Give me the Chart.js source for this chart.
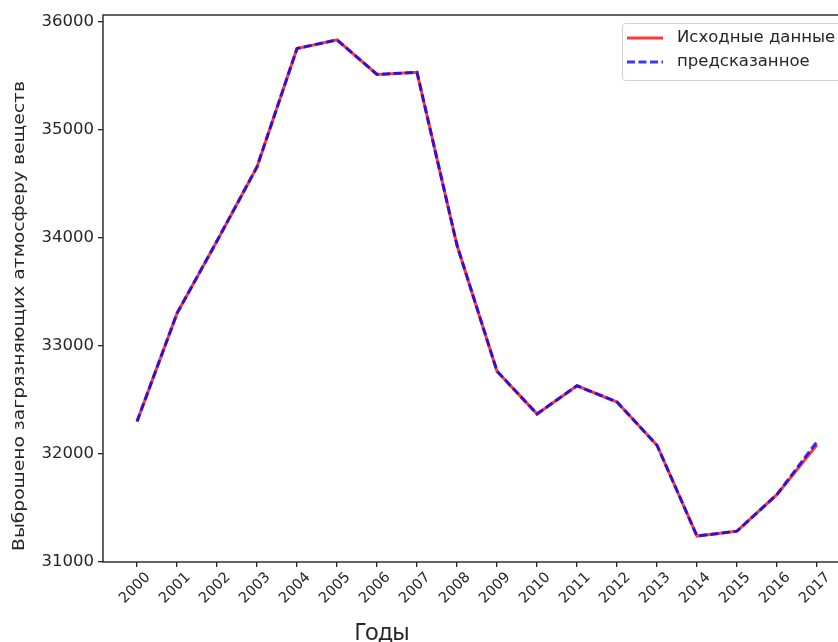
<!DOCTYPE html>
<html>
<head>
<meta charset="utf-8">
<script src="https://cdn.jsdelivr.net/npm/chart.js@4"></script>
<style>
  html, body { margin: 0; padding: 0; background: #fff; }
  #wrap { width: 838px; height: 642px; overflow: hidden; position: relative; }
  #chart { display: block; }
</style>
</head>
<body>
<div id="wrap"><canvas id="chart" width="880" height="642"></canvas></div>
<script>
// Emissions of air pollutants by year: source data and model prediction
const years = [2000, 2001, 2002, 2003, 2004, 2005, 2006, 2007, 2008, 2009, 2010, 2011, 2012, 2013, 2014, 2015, 2016, 2017];
const original = [32300, 33300, 33970, 34655, 35750, 35830, 35510, 35530, 33930, 32765, 32370, 32630, 32480, 32080, 31240, 31285, 31625, 32085];
const predicted = [32300, 33300, 33970, 34655, 35750, 35830, 35510, 35530, 33930, 32765, 32370, 32630, 32480, 32080, 31240, 31285, 31625, 32115];
const yTicks = [31000, 32000, 33000, 34000, 35000, 36000];
const seriesNames = ['Исходные данные', 'предсказанное'];
const xTitle = 'Годы';
const yTitle = 'Выброшено загрязняющих атмосферу веществ';

const RED = 'rgba(255,0,0,0.78)';
const BLUE = 'rgba(0,0,255,0.78)';
const TEXT = '#262626';
const LINE_W = 3;
const DASH = [8, 3.5];

const toPoints = arr => years.map((yr, i) => ({ x: yr, y: arr[i] }));

// Frame, rotated year labels, axis titles and legend
const decorations = {
  id: 'decorations',
  afterDraw(chart) {
    const { ctx, chartArea: a, scales } = chart;
    ctx.save();
    // axes frame
    ctx.strokeStyle = '#222';
    ctx.lineWidth = 1.4;
    ctx.strokeRect(a.left, a.top, a.right - a.left, a.bottom - a.top);

    // year labels, rotated 45 degrees and centred under each tick
    ctx.fillStyle = TEXT;
    ctx.font = '14.5px "DejaVu Sans"';
    ctx.textAlign = 'center';
    ctx.textBaseline = 'middle';
    years.forEach(yr => {
      const px = scales.x.getPixelForValue(yr);
      ctx.save();
      ctx.translate(px - 2, a.bottom + 26);
      ctx.rotate(-Math.PI / 4);
      ctx.fillText(String(yr), 0, 0);
      ctx.restore();
    });

    // y axis title (slightly elongated along its run)
    ctx.save();
    ctx.translate(20, 316);
    ctx.rotate(-Math.PI / 2);
    ctx.scale(1.17, 1);
    ctx.font = '16px "DejaVu Sans"';
    ctx.fillText(yTitle, 0, 0);
    ctx.restore();

    // x axis title
    ctx.font = '23px "Noto Sans"';
    ctx.textBaseline = 'alphabetic';
    ctx.fillText(xTitle, 382, 640);

    // legend
    const lx = 622.5, ly = 23.5, lw = 260, lh = 57;
    ctx.fillStyle = 'rgba(255,255,255,0.8)';
    ctx.strokeStyle = '#d0d0d0';
    ctx.lineWidth = 1;
    ctx.beginPath();
    ctx.roundRect(lx, ly, lw, lh, 3);
    ctx.fill();
    ctx.stroke();
    const rows = [
      { name: seriesNames[0], color: RED, dash: [], y: 38 },
      { name: seriesNames[1], color: BLUE, dash: DASH, y: 62 }
    ];
    rows.forEach(r => {
      ctx.strokeStyle = r.color;
      ctx.lineWidth = LINE_W;
      ctx.setLineDash(r.dash);
      ctx.beginPath();
      ctx.moveTo(627, r.y);
      ctx.lineTo(663, r.y);
      ctx.stroke();
      ctx.setLineDash([]);
      ctx.fillStyle = TEXT;
      ctx.font = '16.5px "DejaVu Sans"';
      ctx.textAlign = 'left';
      ctx.textBaseline = 'middle';
      ctx.fillText(r.name, 677, r.y);
    });
    ctx.restore();
  }
};

new Chart(document.getElementById('chart'), {
  type: 'line',
  data: {
    datasets: [
      {
        label: seriesNames[0],
        data: toPoints(original),
        borderColor: RED,
        borderWidth: LINE_W,
        pointRadius: 0,
        tension: 0,
        order: 2
      },
      {
        label: seriesNames[1],
        data: toPoints(predicted),
        borderColor: BLUE,
        borderWidth: LINE_W,
        borderDash: DASH,
        pointRadius: 0,
        tension: 0,
        order: 1
      }
    ]
  },
  options: {
    responsive: false,
    animation: false,
    devicePixelRatio: 1,
    layout: { padding: { top: 15, right: 29, left: 0, bottom: 0 } },
    plugins: { legend: { display: false }, tooltip: { enabled: false } },
    scales: {
      x: {
        type: 'linear',
        min: years[0] - 0.85,
        max: years[years.length - 1] + 0.85,
        afterBuildTicks: s => { s.ticks = years.map(v => ({ value: v })); },
        afterFit: s => { s.height = 80; },
        ticks: { display: false },
        grid: { drawOnChartArea: false, tickLength: 5, color: '#222', lineWidth: 1.3 },
        border: { display: false }
      },
      y: {
        type: 'linear',
        min: 31000,
        max: 36060,
        afterBuildTicks: s => { s.ticks = yTicks.map(v => ({ value: v })); },
        afterFit: s => { s.width = 103; },
        ticks: {
          font: { family: 'DejaVu Sans', size: 16.5 },
          color: TEXT,
          padding: 4,
          callback: v => String(v)
        },
        grid: { drawOnChartArea: false, tickLength: 5, color: '#222', lineWidth: 1.3 },
        border: { display: false }
      }
    }
  },
  plugins: [decorations]
});
</script>
</body>
</html>
